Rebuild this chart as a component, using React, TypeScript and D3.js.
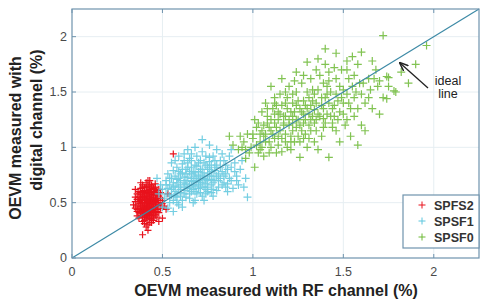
import React from 'react'
import * as d3 from "d3";

// points, [x, y] in %
const spfs2: [number, number][] = [
  [0.42,0.47],[0.40,0.52],[0.44,0.44],[0.38,0.49],[0.45,0.55],[0.41,0.40],[0.43,0.58],[0.39,0.43],[0.46,0.48],[0.37,0.55],
  [0.42,0.36],[0.44,0.62],[0.40,0.46],[0.47,0.42],[0.36,0.47],[0.43,0.51],[0.41,0.56],[0.45,0.38],[0.39,0.60],[0.48,0.50],
  [0.38,0.40],[0.42,0.65],[0.44,0.49],[0.40,0.34],[0.46,0.57],[0.37,0.44],[0.43,0.45],[0.41,0.50],[0.47,0.61],[0.35,0.51],
  [0.44,0.41],[0.40,0.58],[0.42,0.42],[0.45,0.53],[0.39,0.37],[0.49,0.45],[0.38,0.63],[0.43,0.39],[0.41,0.68],[0.46,0.44],
  [0.36,0.42],[0.44,0.57],[0.40,0.48],[0.42,0.54],[0.48,0.56],[0.37,0.36],[0.45,0.46],[0.39,0.53],[0.43,0.32],[0.41,0.44],
  [0.50,0.52],[0.38,0.57],[0.44,0.66],[0.40,0.41],[0.46,0.51],[0.35,0.45],[0.42,0.59],[0.47,0.37],[0.39,0.47],[0.43,0.62],
  [0.41,0.38],[0.45,0.60],[0.37,0.51],[0.44,0.35],[0.40,0.55],[0.48,0.41],[0.42,0.49],[0.38,0.45],[0.46,0.64],[0.43,0.48],
  [0.41,0.61],[0.36,0.58],[0.45,0.42],[0.39,0.33],[0.51,0.47],[0.40,0.64],[0.44,0.52],[0.42,0.30],[0.47,0.54],[0.38,0.52],
  [0.43,0.55],[0.41,0.47],[0.45,0.50],[0.39,0.56],[0.46,0.39],[0.40,0.43],[0.44,0.46],[0.37,0.60],[0.42,0.44],[0.49,0.59],
  [0.36,0.38],[0.43,0.70],[0.41,0.53],[0.45,0.34],[0.39,0.50],[0.47,0.47],[0.40,0.37],[0.44,0.59],[0.42,0.51],[0.38,0.68],
  [0.52,0.44],[0.43,0.42],[0.34,0.48],[0.46,0.67],[0.41,0.28],[0.39,0.21],[0.42,0.25],[0.53,0.58],[0.56,0.94],[0.50,0.36],
  [0.35,0.62],[0.48,0.33],
  [0.41,0.45],[0.43,0.53],[0.39,0.41],[0.45,0.57],[0.40,0.50],[0.42,0.39],[0.44,0.54],[0.38,0.47],[0.46,0.46],[0.41,0.58],
  [0.43,0.43],[0.40,0.39],[0.45,0.49],[0.39,0.55],[0.42,0.61],[0.47,0.52],[0.37,0.49],[0.44,0.38],[0.41,0.52],[0.43,0.66],
  [0.40,0.45],[0.46,0.59],[0.38,0.42],[0.42,0.56],[0.44,0.43],[0.39,0.64],[0.45,0.36],[0.41,0.42],[0.48,0.48],[0.36,0.53],
  [0.43,0.60],[0.40,0.53],[0.42,0.46],[0.44,0.50],[0.38,0.59],[0.46,0.42],[0.41,0.35],[0.47,0.58],[0.39,0.45],[0.43,0.36],
  [0.40,0.61],[0.45,0.63],[0.37,0.41],[0.42,0.40],[0.44,0.64],[0.49,0.54],[0.38,0.54],[0.41,0.64],[0.46,0.53],[0.43,0.47],
  [0.35,0.55],[0.50,0.49],[0.39,0.66],[0.44,0.32],[0.42,0.70],[0.47,0.44],[0.36,0.44],[0.40,0.31],[0.45,0.40],[0.48,0.62],
]

const spsf1: [number, number][] = [
  [0.55,0.62],[0.60,0.70],[0.65,0.66],[0.70,0.75],[0.58,0.55],[0.63,0.80],[0.68,0.60],[0.72,0.68],[0.75,0.82],[0.52,0.58],
  [0.57,0.74],[0.62,0.58],[0.66,0.72],[0.71,0.88],[0.74,0.62],[0.78,0.74],[0.54,0.50],[0.59,0.64],[0.64,0.86],[0.69,0.69],
  [0.73,0.77],[0.77,0.66],[0.80,0.84],[0.56,0.68],[0.61,0.52],[0.67,0.78],[0.70,0.63],[0.76,0.91],[0.82,0.72],[0.50,0.62],
  [0.58,0.82],[0.63,0.61],[0.68,0.84],[0.72,0.56],[0.79,0.79],[0.84,0.88],[0.53,0.45],[0.60,0.76],[0.65,0.54],[0.69,0.92],
  [0.74,0.71],[0.81,0.64],[0.86,0.80],[0.55,0.72],[0.62,0.68],[0.66,0.60],[0.71,0.80],[0.77,0.59],[0.83,0.94],[0.88,0.70],
  [0.51,0.54],[0.57,0.60],[0.64,0.73],[0.68,0.52],[0.73,0.86],[0.78,0.68],[0.85,0.76],[0.90,0.86],[0.56,0.79],[0.61,0.85],
  [0.67,0.66],[0.72,0.96],[0.76,0.74],[0.80,0.61],[0.87,0.92],[0.48,0.58],[0.54,0.66],[0.59,0.48],[0.65,0.90],[0.70,0.70],
  [0.75,0.64],[0.82,0.82],[0.89,0.63],[0.93,0.80],[0.52,0.70],[0.58,0.58],[0.63,0.76],[0.69,0.58],[0.74,0.92],[0.79,0.70],
  [0.84,0.68],[0.91,0.74],[0.60,0.62],[0.66,0.82],[0.71,0.64],[0.77,0.84],[0.62,0.94],[0.57,0.88],[0.53,0.76],[0.49,0.66],
  [0.47,0.72],[0.50,0.46],[0.56,0.42],[0.61,0.46],[0.67,0.50],[0.73,0.52],[0.78,0.56],[0.86,0.60],[0.92,0.66],[0.95,0.64],
  [0.97,0.55],[0.96,0.72],[0.94,0.88],[0.88,0.98],[0.80,0.98],[0.72,1.07],[0.68,1.00],[0.76,1.02],[0.64,0.98],[0.59,0.92],
  [0.55,0.86],[0.65,0.64],[0.70,0.78],[0.74,0.58],[0.81,0.76],[0.85,0.84],[0.63,0.70],[0.68,0.74],[0.58,0.68],[0.54,0.56],
  [0.60,0.56],[0.75,0.70],[0.83,0.66],[0.90,0.78],[0.87,0.72],[0.66,0.88],[0.62,0.64],[0.71,0.72],[0.77,0.78],[0.79,0.88],
  [0.57,0.65],[0.62,0.73],[0.67,0.70],[0.72,0.80],[0.60,0.59],[0.65,0.78],[0.70,0.66],[0.75,0.76],[0.55,0.57],[0.59,0.78],
  [0.64,0.63],[0.69,0.83],[0.74,0.67],[0.79,0.82],[0.53,0.63],[0.58,0.71],[0.63,0.55],[0.68,0.77],[0.73,0.72],[0.78,0.62],
  [0.83,0.78],[0.56,0.52],[0.61,0.80],[0.66,0.69],[0.71,0.59],[0.76,0.87],[0.81,0.70],[0.86,0.67],[0.52,0.66],[0.57,0.56],
  [0.62,0.88],[0.67,0.62],[0.72,0.74],[0.77,0.71],[0.82,0.88],[0.88,0.82],[0.54,0.72],[0.60,0.66],[0.65,0.58],[0.70,0.86],
  [0.75,0.60],[0.80,0.74],[0.85,0.64],[0.91,0.70],[0.58,0.50],[0.63,0.67],[0.68,0.65],[0.73,0.64],[0.66,0.76],[0.61,0.77],
  [0.56,0.64],[0.71,0.68],[0.76,0.80],[0.84,0.74],[0.64,0.82],[0.69,0.72],[0.59,0.72],[0.74,0.84],[0.78,0.92],[0.66,0.94],
]

const spsf0: [number, number][] = [
  [1.20,1.25],[1.10,1.15],[1.30,1.35],[1.05,1.00],[1.15,1.30],[1.25,1.10],[1.35,1.25],[1.00,1.08],[1.12,1.22],[1.22,1.40],
  [1.32,1.15],[1.40,1.45],[0.98,0.95],[1.08,1.28],[1.18,1.05],[1.28,1.30],[1.38,1.38],[1.45,1.28],[1.02,1.18],[1.14,1.10],
  [1.24,1.50],[1.34,1.05],[1.42,1.60],[1.50,1.40],[0.95,1.05],[1.06,0.92],[1.16,1.38],[1.26,1.20],[1.36,1.52],[1.46,1.15],
  [1.55,1.55],[1.04,1.12],[1.11,1.35],[1.21,0.98],[1.31,1.45],[1.41,1.30],[1.52,1.25],[1.60,1.48],[0.92,0.98],[1.09,1.05],
  [1.19,1.45],[1.29,1.12],[1.37,1.65],[1.47,1.42],[1.58,1.35],[1.01,1.25],[1.13,1.18],[1.23,1.32],[1.33,1.28],[1.43,1.50],
  [1.53,1.62],[1.65,1.52],[0.97,1.12],[1.07,1.40],[1.17,1.20],[1.27,1.58],[1.39,1.18],[1.49,1.70],[1.62,1.40],[1.70,1.60],
  [1.03,0.95],[1.15,1.48],[1.25,1.25],[1.35,1.40],[1.44,1.22],[1.56,1.45],[1.68,1.70],[0.89,1.02],[1.10,1.00],[1.20,1.55],
  [1.30,1.00],[1.40,1.75],[1.50,1.30],[1.60,1.20],[1.72,1.45],[1.05,1.32],[1.18,1.28],[1.28,1.42],[1.38,1.10],[1.48,1.55],
  [1.58,1.75],[1.75,1.55],[0.93,1.10],[1.12,1.45],[1.22,1.15],[1.32,1.62],[1.42,1.40],[1.54,1.10],[1.66,1.35],[0.87,1.10],
  [1.01,0.82],[1.26,0.91],[1.42,0.91],[1.58,1.02],[1.10,1.55],[1.30,1.77],[1.40,1.89],[1.60,1.86],[1.72,2.01],[1.78,1.51],
  [1.74,1.64],[1.96,1.92],[1.90,1.75],[1.75,1.63],[1.74,1.44],[1.79,1.50],[1.16,1.62],[1.24,1.68],[1.36,1.80],[1.46,1.85],
  [1.52,1.78],[1.64,1.62],[1.82,1.68],[1.86,1.58],[1.70,1.30],[1.62,1.15],[1.48,1.05],[1.36,0.98],[1.16,0.96],[1.08,1.22],
  [1.18,1.12],[1.28,1.22],[1.34,1.34],[1.44,1.35],[1.52,1.48],[1.14,1.02],[1.24,1.38],[1.06,1.10],[0.99,1.00],[1.21,1.05],
  [1.31,1.20],[1.46,1.62],[1.56,1.28],[1.66,1.78],[1.12,1.30],[1.22,1.22],[1.33,1.52],[1.39,1.26],[1.26,1.05],[1.04,1.05],
  [0.96,0.90],[1.13,0.95],
  [1.17,1.22],[1.07,1.12],[1.27,1.32],[1.12,1.08],[1.22,1.28],[1.32,1.38],[1.02,1.02],[1.14,1.25],[1.24,1.18],[1.34,1.22],
  [1.19,1.35],[1.29,1.25],[1.39,1.35],[1.09,1.18],[1.21,1.10],[1.31,1.30],[1.41,1.48],[1.05,1.15],[1.15,1.15],[1.25,1.42],
  [1.35,1.15],[1.45,1.38],[1.00,1.12],[1.10,1.25],[1.20,1.20],[1.30,1.50],[1.40,1.22],[1.50,1.52],[1.08,1.35],[1.18,1.40],
  [1.28,1.08],[1.38,1.45],[1.48,1.32],[1.03,1.22],[1.13,1.38],[1.23,1.05],[1.33,1.42],[1.43,1.28],[1.53,1.40],[0.96,0.98],
  [1.06,1.20],[1.16,1.08],[1.26,1.35],[1.36,1.30],[1.46,1.48],[1.56,1.65],[1.11,1.12],[1.21,1.32],[1.31,1.08],[1.41,1.55],
  [1.51,1.20],[1.61,1.58],[0.94,1.00],[1.04,0.98],[1.14,1.32],[1.24,1.25],[1.34,1.48],[1.44,1.18],[1.54,1.35],[1.64,1.45],
  [1.09,0.95],[1.19,1.00],[1.29,1.38],[1.39,1.58],[1.49,1.45],[1.59,1.58],[1.69,1.55],[1.12,1.40],[1.22,1.48],[1.32,1.25],
  [1.42,1.68],[1.52,1.70],[1.17,1.28],[1.27,1.15],[1.37,1.28],[1.47,1.25],[1.57,1.50],[1.67,1.62],[1.07,1.05],[1.23,1.60],
  [1.35,1.70],[1.45,1.72],[1.55,1.82],[1.28,1.65],[1.18,1.50],
]

const seriesNames = ["SPFS2", "SPSF1", "SPSF0"]
const seriesColors = ["#e8121c", "#5cc6de", "#6cb934"]
const ticks = [0, 0.5, 1, 1.5, 2]
const idealLine: [number, number][] = [[0, 0], [2.25, 2.25]]

const frameColor = "#6f93ad"

const Cross = ({ x, y, color, size, width }: { x: number; y: number; color: string; size: number; width: number }) => (
  <path d={`M${x - size},${y}H${x + size}M${x},${y - size}V${y + size}`} stroke={color} strokeWidth={width} fill="none" />
)

export default function App() {
  const dimensions = { width: 480, height: 301 }
  const margin = { left: 72, top: 9, right: 1, bottom: 43 }

  const xScale = d3.scaleLinear().domain([0, 2.25]).range([margin.left, dimensions.width - margin.right])
  const yScale = d3.scaleLinear().domain([0, 2.25]).range([dimensions.height - margin.bottom, margin.top])

  const [x0, x1] = xScale.range()
  const [y0, y1] = yScale.range()

  const lineGenerator = d3.line<[number, number]>()
    .x(d => xScale(d[0]))
    .y(d => yScale(d[1]))

  const allSeries = [spfs2, spsf1, spsf0]

  return (
    <svg width={dimensions.width} height={dimensions.height}
      style={{ position: "absolute", left: 0, top: 0, fontFamily: "Liberation Sans, Arial, sans-serif" }}>
      <rect x={0} y={0} width={dimensions.width} height={dimensions.height} fill="#fff" />
      {/* grid */}
      {ticks.slice(1).map(t => (
        <g key={"g" + t}>
          <line x1={xScale(t)} x2={xScale(t)} y1={y0} y2={y1} stroke="#e6eef2" strokeWidth={1} />
          <line x1={x0} x2={x1} y1={yScale(t)} y2={yScale(t)} stroke="#e6eef2" strokeWidth={1} />
        </g>
      ))}
      {/* points */}
      {allSeries.map((s, i) => (
        <g key={seriesNames[i]} opacity={i === 0 ? 1 : 0.85}>
          {s.map((p, j) => (
            <Cross key={j} x={xScale(p[0])} y={yScale(p[1])} color={seriesColors[i]}
              size={i === 0 ? 3.5 : 4} width={1.2} />
          ))}
        </g>
      ))}
      <path d={lineGenerator(idealLine) ?? ""} stroke="#3d8aa6" strokeWidth={1.2} fill="none" />
      {/* frame and ticks */}
      <rect x={x0} y={y1} width={x1 - x0} height={y0 - y1} fill="none" stroke={frameColor} strokeWidth={1.2} />
      {ticks.map(t => (
        <g key={"t" + t}>
          <line x1={xScale(t)} x2={xScale(t)} y1={y0} y2={y0 - 4} stroke={frameColor} />
          <line x1={xScale(t)} x2={xScale(t)} y1={y1} y2={y1 + 4} stroke={frameColor} />
          <line x1={x0} x2={x0 + 4} y1={yScale(t)} y2={yScale(t)} stroke={frameColor} />
          <text x={xScale(t)} y={y0 + 18} textAnchor="middle" fontSize={12.5} fill="#4a4a4a">{t}</text>
          <text x={x0 - 5} y={yScale(t) + 4} textAnchor="end" fontSize={12.5} fill="#4a4a4a">{t}</text>
        </g>
      ))}
      {/* axis labels */}
      <text x={276} y={296} textAnchor="middle" fontSize={16} fontWeight="bold" fill="#222">
        OEVM measured with RF channel (%)
      </text>
      <text transform={`translate(21,138) rotate(-90)`} textAnchor="middle" fontSize={16} fontWeight="bold" fill="#222">
        OEVM measured with
      </text>
      <text transform={`translate(42,120) rotate(-90)`} textAnchor="middle" fontSize={16} fontWeight="bold" fill="#222">
        digital channel (%)
      </text>
      {/* annotation */}
      <defs>
        <marker id="arrow" viewBox="0 0 10 10" refX={9} refY={5} markerWidth={7} markerHeight={7} orient="auto">
          <path d="M0,1L10,5L0,9" fill="none" stroke="#222" strokeWidth={1.6} />
        </marker>
      </defs>
      <line x1={428} y1={88} x2={400} y2={63} stroke="#222" strokeWidth={1.3} markerEnd="url(#arrow)" />
      <text x={448} y={85} textAnchor="middle" fontSize={12.5} fill="#222">ideal</text>
      <text x={448} y={98} textAnchor="middle" fontSize={12.5} fill="#222">line</text>
      {/* legend */}
      <rect x={403} y={195} width={76} height={53} fill="#fff" stroke={frameColor} strokeWidth={1.2} />
      {seriesNames.map((n, i) => (
        <g key={"l" + n}>
          <Cross x={422} y={205 + i * 16} color={seriesColors[i]} size={3.5} width={1} />
          <text x={434} y={209.5 + i * 16} fontSize={12.5} fontWeight="bold" fill="#333">{n}</text>
        </g>
      ))}
    </svg>
  )
}
